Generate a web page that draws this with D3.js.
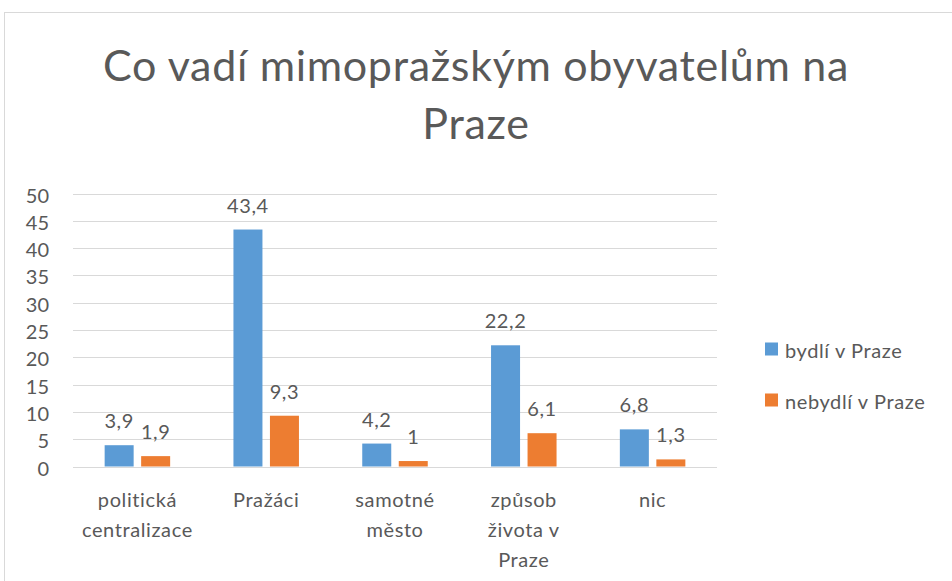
<!DOCTYPE html>
<html><head><meta charset="utf-8">
<script src="https://cdn.jsdelivr.net/npm/d3@7"></script>
<style>body{margin:0;background:#fff}svg{display:block}text{font-family:Lato,"Open Sans",sans-serif;fill:#595959}</style>
</head><body>
<script>
const categories = [["politická","centralizace"],["Pražáci"],["samotné","město"],["způsob","života v","Praze"],["nic"]];
const seriesNames = ["bydlí v Praze","nebydlí v Praze"];
const bydli = [3.9, 43.4, 4.2, 22.2, 6.8];
const nebydli = [1.9, 9.3, 1, 6.1, 1.3];
const yTicks = [0,5,10,15,20,25,30,35,40,45,50];
const colors = ["#5B9BD5","#ED7D31"];
const titleLines = ["Co vadí mimopražským obyvatelům na","Praze"];

const W=952,H=581;
const FS="20px", LS="0.6px";
const svg=d3.select("body").append("svg").attr("width",W).attr("height",H);
svg.append("rect").attr("x",4.5).attr("y",12.5).attr("width",1000).attr("height",700)
  .attr("fill","none").attr("stroke","#D9D9D9");

const x0=d3.scaleBand().domain(d3.range(categories.length)).range([73,717]);
const y=d3.scaleLinear().domain([0,50]).range([466.5,193.5]);
const barW=29, gap=7.5;

// title
const t=svg.append("g");
titleLines.forEach((l,i)=>{
  t.append("text").attr("x",476).attr("y",[81,139][i]).attr("text-anchor","middle")
   .style("font-size","43px").style("font-weight",400).text(l);
});
const tn=t.select("text").node();
const tl=tn.getComputedTextLength();
const n1=titleLines[0].length;
const ls=(746-tl)/n1;
t.selectAll("text").style("letter-spacing",ls+"px");

// grid
svg.append("g").selectAll("line").data(yTicks).join("line")
  .attr("x1",73).attr("x2",717).attr("y1",d=>Math.round(y(d))+0.5).attr("y2",d=>Math.round(y(d))+0.5)
  .attr("stroke","#D9D9D9").attr("stroke-width",1.2);
svg.append("g").selectAll("text").data(yTicks).join("text")
  .attr("x",49).attr("y",d=>y(d)+1).attr("text-anchor","end").attr("dominant-baseline","central")
  .style("font-size",FS).text(d=>d);

const fmt=v=>String(v).replace(".",",");
[bydli,nebydli].forEach((vals,s)=>{
  const g=svg.append("g");
  const cx=i=>x0(i)+x0.bandwidth()/2+(s===0?-(gap/2+barW):gap/2);
  g.selectAll("rect").data(vals).join("rect")
    .attr("x",(d,i)=>cx(i)).attr("width",barW)
    .attr("y",d=>y(d)).attr("height",d=>y(0)-y(d)).attr("fill",colors[s]);
  g.selectAll("text").data(vals).join("text")
    .attr("x",(d,i)=>cx(i)+barW/2).attr("y",d=>y(d)-25).attr("text-anchor","middle")
    .attr("dominant-baseline","central").style("font-size",FS).style("letter-spacing",LS).text(fmt);
});

// category labels
categories.forEach((lines,i)=>{
  lines.forEach((l,j)=>{
    svg.append("text").attr("x",x0(i)+x0.bandwidth()/2).attr("y",499+j*30)
      .attr("text-anchor","middle").attr("dominant-baseline","central")
      .style("font-size",FS).style("letter-spacing",LS).text(l);
  });
});

// legend
seriesNames.forEach((n,i)=>{
  const yy=349+i*51;
  svg.append("rect").attr("x",765).attr("y",yy-6.5).attr("width",13).attr("height",13).attr("fill",colors[i]);
  svg.append("text").attr("x",785).attr("y",yy+1).attr("dominant-baseline","central")
    .style("font-size",FS).style("letter-spacing",LS).text(n);
});
</script>
</body></html>
